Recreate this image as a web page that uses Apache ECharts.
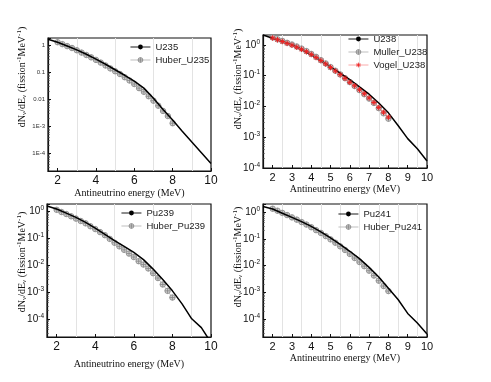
<!DOCTYPE html>
<html><head><meta charset="utf-8">
<script src="https://cdn.jsdelivr.net/npm/echarts@6/dist/echarts.min.js"></script>
<style>html,body{margin:0;padding:0;background:#fff}#c{width:491px;height:382px}</style>
</head><body><div id="c"></div>
<script>
// ---------------- data ----------------
const energyLine = [1.5,2,2.5,3,3.5,4,4.5,5,5.5,6,6.5,7,7.5,8,8.5,9,9.5,10];
const energyData = [2,2.25,2.5,2.75,3,3.25,3.5,3.75,4,4.25,4.5,4.75,5,5.25,5.5,5.75,6,6.25,6.5,6.75,7,7.25,7.5,7.75,8];

const u235 = [1.7,1.3,0.95,0.68,0.47,0.31,0.2,0.125,0.078,0.047,0.026,0.011,0.0042,0.0017,6.5e-4,2.6e-4,1.05e-4,4.2e-5];
const huberU235 = [1.31,1.11,0.94,0.80,0.66,0.54,0.44,0.36,0.29,0.23,0.18,0.14,0.11,0.087,0.066,0.050,0.037,0.026,0.019,0.013,0.0089,0.0058,0.0037,0.0024,0.0013];

const u238 = [2.1,1.65,1.3,1.0,0.72,0.48,0.31,0.19,0.12,0.075,0.043,0.025,0.013,0.0062,0.0024,9e-4,4.2e-4,1.7e-4];
const mullerU238 = [1.75,1.52,1.35,1.17,1.03,0.89,0.76,0.63,0.51,0.41,0.32,0.25,0.19,0.145,0.11,0.083,0.062,0.046,0.034,0.025,0.018,0.013,0.0088,0.006,0.004];
const vogelU238 = [1.68,1.47,1.29,1.12,0.98,0.84,0.72,0.6,0.49,0.39,0.31,0.24,0.185,0.142,0.108,0.082,0.061,0.047,0.035,0.026,0.019,0.0135,0.0093,0.0065,0.0045];

const pu239 = [1.6,1.23,0.86,0.6,0.39,0.24,0.14,0.081,0.05,0.03,0.016,0.0071,0.0029,0.0011,3.6e-4,1.0e-4,4.7e-5,1.3e-5];
const huberPu239 = [1.15,0.95,0.80,0.66,0.54,0.44,0.36,0.28,0.22,0.17,0.13,0.095,0.068,0.05,0.037,0.027,0.02,0.014,0.0105,0.0075,0.005,0.0033,0.0019,0.0011,6.2e-4];

const pu241 = [1.6,1.3,0.9,0.63,0.44,0.29,0.18,0.107,0.062,0.034,0.018,0.0085,0.0037,0.0014,5.3e-4,1.6e-4,7e-5,2.7e-5];
const huberPu241 = [1.33,1.12,0.93,0.77,0.63,0.52,0.42,0.34,0.27,0.21,0.165,0.126,0.095,0.071,0.052,0.038,0.027,0.019,0.0135,0.0094,0.0064,0.0042,0.0027,0.0017,0.0011];

const gridLinesEven = [3,5,7,9];
const gridLinesHalf = [2.5,3.5,4.5,5.5,6.5,7.5,8.5,9.5];
const p1YTickText = {'0':'1','-1':'0.1','-2':'0.01','-3':'1E-3','-4':'1E-4'};
const xName = 'Antineutrino energy (MeV)';
const yName = 'dN{sub|ν}/dE{sub|ν} (fission{sup|-1}MeV{sup|-1})';

// ---------------- helpers ----------------
const SANS = 'Liberation Sans', SERIF = 'Liberation Serif';
const zip = (xs, ys) => xs.map((x, i) => [x, ys[i]]);
const huberSymbol = 'path://M0,-10A10,10,0,1,1,0,10A10,10,0,1,1,0,-10ZM-10,0L10,0M0,-10L0,10';
const starSymbol = 'path://M0,-10L0,10M-10,0L10,0M-7,-7L7,7M-7,7L7,-7';

function isPow10(v) { const l = Math.log10(v); return Math.abs(l - Math.round(l)) < 1e-6; }

const grids = [
  {left: 48, top: 38, width: 163, height: 133},
  {left: 263, top: 35, width: 164, height: 133},
  {left: 47, top: 204, width: 164, height: 133},
  {left: 263, top: 204, width: 164, height: 133}
];
const yRanges = [[2.2e-5, 1.88],[1e-4, 2.1],[2.1e-5, 1.89],[2.1e-5, 2.0]];
const xNameGaps = [15, 16, 22, 15];

const xAxes = grids.map((g, i) => {
  const even = (i === 0 || i === 2);
  const ax = {
    type: 'value', gridIndex: i, min: 1.5, max: 10,
    name: xName, nameLocation: 'middle', nameGap: xNameGaps[i],
    nameTextStyle: {fontFamily: SERIF, fontSize: 10, color: '#111'},
    axisLine: {show: true, lineStyle: {color: '#111', width: 1.2}},
    axisTick: {show: true, inside: true, length: 3, lineStyle: {color: '#111'}},
    splitLine: {show: false},
    axisLabel: {
      margin: 4, color: '#111', fontFamily: SANS, fontSize: even ? 12 : 11,
      showMinLabel: false,
      formatter: v => even ? (v % 2 === 0 ? String(v) : '') : (Number.isInteger(v) ? String(v) : '')
    }
  };
  if (even) {
    ax.splitNumber = 4;
    ax.minorTick = {show: true, splitNumber: 2, length: 2, lineStyle: {color: '#111'}};
  } else {
    ax.interval = 0.5;
  }
  return ax;
});

const yAxes = grids.map((g, i) => ({
  type: 'log', logBase: 10, gridIndex: i, min: yRanges[i][0], max: yRanges[i][1],
  axisLine: {show: true, lineStyle: {color: '#111', width: 1.2}},
  axisTick: {show: true, inside: true, length: 3, lineStyle: {color: '#111'}},
  minorTick: {show: true, splitNumber: 9, length: 1.5, lineStyle: {color: '#333'}},
  splitLine: {show: false},
  axisLabel: i === 0 ? {
    margin: 3, color: '#333', fontFamily: SANS, fontSize: 6,
    formatter: v => isPow10(v) ? (p1YTickText[String(Math.round(Math.log10(v)))] || '') : ''
  } : {
    margin: 3, color: '#111', fontFamily: SANS, fontSize: 10,
    formatter: v => isPow10(v) ? '{b|10}{s|' + Math.round(Math.log10(v)) + '}' : '',
    rich: {b: {fontSize: 10, fontFamily: SANS, color: '#111'}, s: {fontSize: 6.5, fontFamily: SANS, color: '#111', padding: [0, 0, 6, 0]}}
  }
}));

function mainLine(name, i, vals, gl) {
  return {
    name, type: 'line', xAxisIndex: i, yAxisIndex: i, data: zip(energyLine, vals),
    symbol: 'circle', symbolSize: 3, showSymbol: false, itemStyle: {color: '#000'},
    lineStyle: {color: '#000', width: 1.5}, z: 5, silent: true,
    markLine: {silent: true, symbol: 'none', label: {show: false}, animation: false, z: 1,
      lineStyle: {color: '#e3e3e3', width: 1, type: 'solid'},
      data: gl.map(v => ({xAxis: v}))}
  };
}
function huberSeries(name, i, vals) {
  return {
    name, type: 'line', xAxisIndex: i, yAxisIndex: i, data: zip(energyData, vals),
    symbol: huberSymbol, symbolSize: 5.5,
    itemStyle: {color: '#d2d2d2', borderColor: '#858585', borderWidth: 0.8},
    lineStyle: {color: '#b8b8b8', width: 0.8}, z: 4, silent: true
  };
}
function vogelSeries(name, i, vals) {
  return {
    name, type: 'line', xAxisIndex: i, yAxisIndex: i, data: zip(energyData, vals),
    symbol: starSymbol, symbolSize: 5.5,
    itemStyle: {color: '#e22', borderColor: '#e22', borderWidth: 1},
    lineStyle: {color: '#f9a0a0', width: 0.8}, z: 6, silent: true
  };
}

const series = [
  mainLine('U235', 0, u235, gridLinesEven), huberSeries('Huber_U235', 0, huberU235),
  mainLine('U238', 1, u238, gridLinesHalf), huberSeries('Muller_U238', 1, mullerU238), vogelSeries('Vogel_U238', 1, vogelU238),
  mainLine('Pu239', 2, pu239, gridLinesEven), huberSeries('Huber_Pu239', 2, huberPu239),
  mainLine('Pu241', 3, pu241, gridLinesHalf), huberSeries('Huber_Pu241', 3, huberPu241)
];

const legendCommon = {orient: 'vertical', itemWidth: 20, itemHeight: 6, itemGap: 3, padding: 0,
  lineStyle: {width: 0.9}, itemStyle: {borderWidth: 0.8},
  textStyle: {fontFamily: SANS, fontSize: 9.5, color: '#222'}, selectedMode: false};
const legends = [
  Object.assign({left: 130, top: 42, data: ['U235', 'Huber_U235']}, legendCommon),
  Object.assign({left: 348, top: 34, data: ['U238', 'Muller_U238', 'Vogel_U238']}, legendCommon),
  Object.assign({left: 121, top: 208, data: ['Pu239', 'Huber_Pu239']}, legendCommon),
  Object.assign({left: 338, top: 209, data: ['Pu241', 'Huber_Pu241']}, legendCommon)
];

const yNamePos = [[22, 77], [238, 79], [22, 262], [238, 257]];
const graphic = yNamePos.map(p => ({
  type: 'text', x: p[0], y: p[1], rotation: Math.PI / 2, silent: true,
  style: {text: yName, fontFamily: SERIF, fontSize: 10, fill: '#111', align: 'center', verticalAlign: 'middle',
    rich: {sub: {fontFamily: SERIF, fontSize: 7, fill: '#111', padding: [5, 0, 0, 0]},
           sup: {fontFamily: SERIF, fontSize: 7, fill: '#111', padding: [0, 0, 5, 0]}}}
}));

const chart = echarts.init(document.getElementById('c'), null, {renderer: 'canvas'});
chart.setOption({
  backgroundColor: '#fff', animation: false,
  grid: grids.map(g => Object.assign({show: true, borderColor: '#111', borderWidth: 1.2, backgroundColor: 'transparent'}, g)),
  xAxis: xAxes, yAxis: yAxes, legend: legends, series, graphic
});
</script></body></html>
